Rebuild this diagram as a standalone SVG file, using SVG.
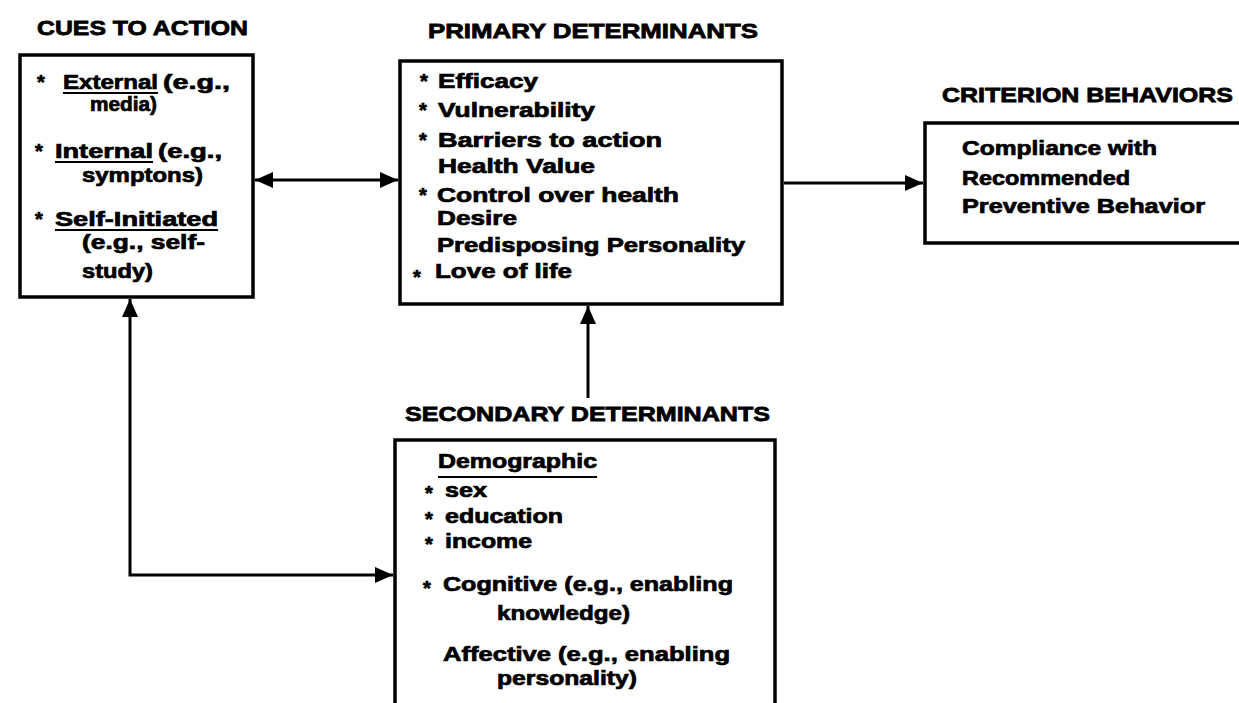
<svg xmlns="http://www.w3.org/2000/svg" width="1239" height="703" viewBox="0 0 1239 703">
<style>
.t{font-family:"Liberation Sans",Arial,sans-serif;font-weight:bold;font-size:20px;fill:#000;stroke:#000;stroke-width:0.7}
.h{font-family:"Liberation Sans",Arial,sans-serif;font-weight:bold;font-size:21px;fill:#000;stroke:#000;stroke-width:0.8}
.b{fill:#fff;stroke:#000;stroke-width:3.5}
.c{fill:none;stroke:#000;stroke-width:3}
.u{stroke:#000;stroke-width:2}
</style>
<defs>
<marker id="ah" viewBox="0 0 18 16" refX="18" refY="8" markerWidth="18" markerHeight="16" markerUnits="userSpaceOnUse" orient="auto-start-reverse">
<path d="M0,0 L18,8 L0,16 Z" fill="#000"/>
</marker>
</defs>
<rect width="1239" height="703" fill="#fff"/>

<g id="cues">
<text class="h" x="37" y="35" textLength="211" lengthAdjust="spacingAndGlyphs">CUES TO ACTION</text>
<rect class="b" x="20" y="55" width="233" height="242"/>
<text class="t" x="37" y="89">*</text>
<text class="t" x="63" y="89" textLength="95" lengthAdjust="spacingAndGlyphs">External</text>
<line class="u" x1="63" y1="93" x2="158" y2="93"/>
<text class="t" x="163" y="89" textLength="67" lengthAdjust="spacingAndGlyphs">(e.g.,</text>
<text class="t" x="90" y="111" textLength="67" lengthAdjust="spacingAndGlyphs">media)</text>
<text class="t" x="35" y="158">*</text>
<text class="t" x="55" y="158" textLength="98" lengthAdjust="spacingAndGlyphs">Internal</text>
<line class="u" x1="55" y1="162" x2="153" y2="162"/>
<text class="t" x="158" y="158" textLength="64" lengthAdjust="spacingAndGlyphs">(e.g.,</text>
<text class="t" x="82" y="182" textLength="121" lengthAdjust="spacingAndGlyphs">symptons)</text>
<text class="t" x="35" y="226">*</text>
<text class="t" x="55" y="226" textLength="163" lengthAdjust="spacingAndGlyphs">Self-Initiated</text>
<line class="u" x1="55" y1="230" x2="218" y2="230"/>
<text class="t" x="82" y="249" textLength="123" lengthAdjust="spacingAndGlyphs">(e.g., self-</text>
<text class="t" x="82" y="278" textLength="71" lengthAdjust="spacingAndGlyphs">study)</text>
</g>

<g id="primary">
<text class="h" x="428" y="38" textLength="330" lengthAdjust="spacingAndGlyphs">PRIMARY DETERMINANTS</text>
<rect class="b" x="400" y="61" width="382" height="243"/>
<text class="t" x="420" y="88">*</text>
<text class="t" x="438" y="88" textLength="100" lengthAdjust="spacingAndGlyphs">Efficacy</text>
<text class="t" x="419" y="117">*</text>
<text class="t" x="438" y="117" textLength="157" lengthAdjust="spacingAndGlyphs">Vulnerability</text>
<text class="t" x="419" y="147">*</text>
<text class="t" x="438" y="147" textLength="224" lengthAdjust="spacingAndGlyphs">Barriers to action</text>
<text class="t" x="438" y="173" textLength="157" lengthAdjust="spacingAndGlyphs">Health Value</text>
<text class="t" x="419" y="202">*</text>
<text class="t" x="437" y="202" textLength="242" lengthAdjust="spacingAndGlyphs">Control over health</text>
<text class="t" x="437" y="225" textLength="80" lengthAdjust="spacingAndGlyphs">Desire</text>
<text class="t" x="437" y="252" textLength="308" lengthAdjust="spacingAndGlyphs">Predisposing Personality</text>
<text class="t" x="413" y="284">*</text>
<text class="t" x="435" y="278" textLength="137" lengthAdjust="spacingAndGlyphs">Love of life</text>
</g>

<g id="criterion">
<text class="h" x="942" y="102" textLength="291" lengthAdjust="spacingAndGlyphs">CRITERION BEHAVIORS</text>
<rect class="b" x="925" y="123" width="340" height="120"/>
<text class="t" x="962" y="155" textLength="195" lengthAdjust="spacingAndGlyphs">Compliance with</text>
<text class="t" x="962" y="185" textLength="168" lengthAdjust="spacingAndGlyphs">Recommended</text>
<text class="t" x="962" y="213" textLength="243" lengthAdjust="spacingAndGlyphs">Preventive Behavior</text>
</g>

<g id="secondary">
<text class="h" x="405" y="421" textLength="365" lengthAdjust="spacingAndGlyphs">SECONDARY DETERMINANTS</text>
<rect class="b" x="395" y="440" width="380" height="300"/>
<text class="t" x="438" y="468" textLength="159" lengthAdjust="spacingAndGlyphs">Demographic</text>
<line class="u" x1="438" y1="477" x2="597" y2="477"/>
<text class="t" x="425" y="500">*</text>
<text class="t" x="445" y="497" textLength="42" lengthAdjust="spacingAndGlyphs">sex</text>
<text class="t" x="425" y="526">*</text>
<text class="t" x="445" y="523" textLength="118" lengthAdjust="spacingAndGlyphs">education</text>
<text class="t" x="425" y="551">*</text>
<text class="t" x="445" y="548" textLength="87" lengthAdjust="spacingAndGlyphs">income</text>
<text class="t" x="423" y="595">*</text>
<text class="t" x="443" y="591" textLength="290" lengthAdjust="spacingAndGlyphs">Cognitive (e.g., enabling</text>
<text class="t" x="497" y="620" textLength="133" lengthAdjust="spacingAndGlyphs">knowledge)</text>
<text class="t" x="443" y="661" textLength="287" lengthAdjust="spacingAndGlyphs">Affective (e.g., enabling</text>
<text class="t" x="497" y="685" textLength="140" lengthAdjust="spacingAndGlyphs">personality)</text>
</g>

<g id="connectors">
<line class="c" x1="255" y1="180" x2="398" y2="180" marker-start="url(#ah)" marker-end="url(#ah)"/>
<line class="c" x1="784" y1="183" x2="923" y2="183" marker-end="url(#ah)"/>
<line class="c" x1="588" y1="398" x2="588" y2="306" marker-end="url(#ah)"/>
<path class="c" d="M393,575 H130 V299" marker-start="url(#ah)" marker-end="url(#ah)"/>
</g>
</svg>
